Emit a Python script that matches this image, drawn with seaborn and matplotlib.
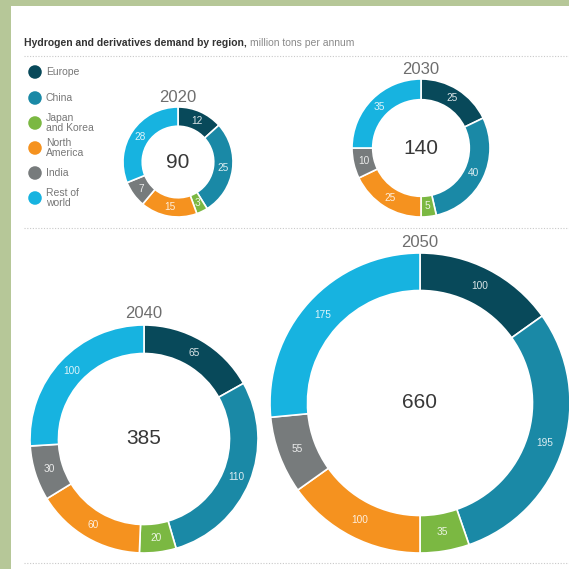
import matplotlib
matplotlib.use('Agg')

import numpy as np
import seaborn as sns
from matplotlib import pyplot as plt
from matplotlib.patches import Rectangle

# data: hydrogen and derivatives demand, million tons per annum
REGIONS = ['Europe', 'China', 'Japan\nand Korea', 'North\nAmerica', 'India', 'Rest of\nworld']
YEARS = ['2020', '2030', '2040', '2050']
DEMAND_2020 = [12, 25, 3, 15, 7, 28]
DEMAND_2030 = [25, 40, 5, 25, 10, 35]
DEMAND_2040 = [65, 110, 20, 60, 30, 100]
DEMAND_2050 = [100, 195, 35, 100, 55, 175]

COLORS = ['#08495a', '#1a89a6', '#7bb842', '#f5921f', '#777b7c', '#17b3e0']

W = H = 569

# pixel layout: center x, center y (from top), outer radius, hole ratio, year label y
LAYOUT = {
    '2020': (178, 162, 55, 0.65, 97),
    '2030': (421, 148, 69, 0.70, 69),
    '2040': (144, 439, 114, 0.75, 313),
    '2050': (420, 403, 150, 0.75, 242),
}


def main():
    sns.set_style('white')
    plt.rcParams['font.family'] = ['Liberation Sans', 'DejaVu Sans']

    fig = plt.figure(figsize=(W / 100, H / 100), dpi=100, facecolor='#b6c798')
    ax = fig.add_axes([0, 0, 1, 1])
    ax.set_facecolor('none')
    # white panel inside the green frame
    ax.add_patch(Rectangle((11, 0), W, H - 6, facecolor='white', edgecolor='none', zorder=-10))

    data = dict(zip(YEARS, [DEMAND_2020, DEMAND_2030, DEMAND_2040, DEMAND_2050]))

    for year, values in data.items():
        cx, cy, r, ratio, ly = LAYOUT[year]
        total = sum(values)
        ring = r * (1 - ratio)
        wedges, _, autotexts = ax.pie(
            values, colors=COLORS, radius=r, center=(cx, H - cy),
            startangle=90, counterclock=False,
            autopct=lambda p, t=total: f'{p * t / 100:.0f}',
            pctdistance=1 - ring / r / 2,
            wedgeprops=dict(width=ring, edgecolor='white', linewidth=1.2),
            textprops=dict(color='white', fontsize=7.3, alpha=0.85),
        )
        ax.text(cx, H - cy, str(total), ha='center', va='center',
                fontsize=15, color='#383838')
        ax.text(cx, H - ly, year, ha='center', va='center',
                fontsize=12, color='#6e6e6e')

    # legend
    legend_y = [72, 98, 123, 148, 173, 198]
    ax.scatter([35] * len(REGIONS), [H - y for y in legend_y], s=95, c=COLORS, linewidths=0)
    for y, name in zip(legend_y, REGIONS):
        ax.text(46, H - y, name, ha='left', va='center', fontsize=7.5,
                color='#777777', linespacing=0.95)

    # dotted separators
    for y in [56, 228, 563]:
        ax.plot([24, W], [H - y, H - y], linestyle=(0, (1, 1.5)), color='#c9c9c9', lw=0.8)

    ax.set_xlim(0, W)
    ax.set_ylim(0, H)
    ax.set_aspect('auto')
    ax.set_axis_off()

    # title: bold lead-in followed by light units
    t1 = ax.text(24, H - 43, 'Hydrogen and derivatives demand by region,', ha='left', va='center',
                 fontsize=7.5, fontweight='bold', color='#333333')
    fig.canvas.draw()
    bb = t1.get_window_extent()
    ax.text(bb.x1 + 3, H - 43, 'million tons per annum', ha='left', va='center',
            fontsize=7.5, color='#8a8a8a')

    fig.savefig('out.png', dpi=100, facecolor=fig.get_facecolor())


if __name__ == '__main__':
    main()
